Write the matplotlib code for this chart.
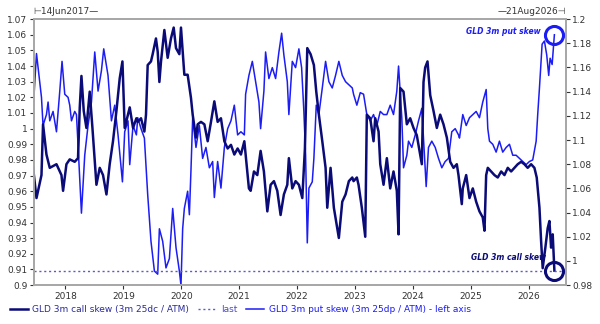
import numpy as np
import matplotlib
matplotlib.use("Agg")
import matplotlib.pyplot as plt
from matplotlib.lines import Line2D

# put skew (3m 25dp / ATM) - left axis, x in decimal years
put_t = [2017.441, 2017.500, 2017.586, 2017.613, 2017.672, 2017.700, 2017.729, 2017.786, 2017.845, 2017.902,
         2017.941, 2017.988, 2018.045, 2018.074, 2018.104, 2018.160, 2018.190, 2018.217, 2018.276, 2018.333,
         2018.390, 2018.449, 2018.506, 2018.563, 2018.621, 2018.661, 2018.735, 2018.794, 2018.851, 2018.908,
         2018.984, 2019.023, 2019.080, 2019.110, 2019.167, 2019.225, 2019.248, 2019.305, 2019.363, 2019.420,
         2019.477, 2019.536, 2019.593, 2019.622, 2019.679, 2019.736, 2019.795, 2019.852, 2019.909, 2019.967,
         2019.995, 2020.024, 2020.053, 2020.110, 2020.140, 2020.167, 2020.197, 2020.254, 2020.312, 2020.369,
         2020.426, 2020.485, 2020.542, 2020.571, 2020.628, 2020.685, 2020.744, 2020.801, 2020.858, 2020.916,
         2020.973, 2021.030, 2021.089, 2021.111, 2021.168, 2021.227, 2021.284, 2021.341, 2021.370, 2021.427,
         2021.456, 2021.513, 2021.572, 2021.629, 2021.686, 2021.733, 2021.772, 2021.831, 2021.858, 2021.917,
         2021.974, 2022.031, 2022.078, 2022.117, 2022.147, 2022.176, 2022.204, 2022.262, 2022.290, 2022.331,
         2022.376, 2022.435, 2022.492, 2022.549, 2022.607, 2022.664, 2022.721, 2022.780, 2022.837, 2022.894,
         2022.953, 2022.975, 2023.032, 2023.091, 2023.148, 2023.204, 2023.263, 2023.320, 2023.377, 2023.436,
         2023.493, 2023.550, 2023.608, 2023.665, 2023.722, 2023.752, 2023.808, 2023.838, 2023.895, 2023.924,
         2023.981, 2024.040, 2024.097, 2024.154, 2024.183, 2024.229, 2024.269, 2024.326, 2024.385, 2024.442,
         2024.499, 2024.557, 2024.614, 2024.671, 2024.730, 2024.787, 2024.804, 2024.861, 2024.920, 2024.977,
         2025.034, 2025.092, 2025.149, 2025.206, 2025.265, 2025.293, 2025.322, 2025.379, 2025.437, 2025.494,
         2025.551, 2025.610, 2025.667, 2025.724, 2025.782, 2025.839, 2025.896, 2025.955, 2026.012, 2026.069,
         2026.128, 2026.155, 2026.185, 2026.231, 2026.271, 2026.311, 2026.345, 2026.369, 2026.404, 2026.443]
put_v = [1.011, 1.048, 1.020, 1.002, 1.009, 1.017, 1.005, 1.011, 0.998, 1.024,
         1.043, 1.022, 1.020, 1.015, 1.005, 1.011, 1.009, 0.990, 0.946, 0.983,
         1.002, 1.017, 1.049, 1.024, 1.037, 1.051, 1.034, 1.005, 1.015, 0.996,
         0.966, 0.998, 1.005, 0.977, 1.002, 0.996, 1.007, 1.000, 0.994, 0.958,
         0.928, 0.909, 0.907, 0.936, 0.928, 0.911, 0.917, 0.949, 0.924, 0.909,
         0.900, 0.936, 0.949, 0.960, 0.945, 0.973, 1.007, 0.988, 1.002, 0.981,
         0.988, 0.975, 0.979, 0.956, 0.979, 0.962, 0.988, 1.000, 1.005, 1.015,
         0.996, 0.998, 0.996, 1.022, 1.034, 1.043, 1.030, 1.017, 1.000, 1.024,
         1.049, 1.032, 1.039, 1.032, 1.049, 1.061, 1.047, 1.030, 1.009, 1.043,
         1.039, 1.051, 1.039, 1.011, 0.983, 0.927, 0.962, 0.966, 0.981, 1.015,
         1.009, 1.026, 1.043, 1.030, 1.026, 1.034, 1.043, 1.034, 1.030, 1.028,
         1.026, 1.022, 1.015, 1.023, 1.022, 1.009, 1.005, 1.009, 1.002, 1.011,
         1.009, 1.009, 1.015, 1.009, 1.024, 1.040, 1.007, 0.975, 0.983, 0.992,
         0.988, 0.996, 1.005, 1.013, 0.994, 0.963, 0.988, 0.992, 0.988, 0.981,
         0.975, 0.979, 0.981, 0.998, 1.000, 0.996, 0.994, 1.009, 1.002, 1.007,
         1.009, 1.011, 1.007, 1.017, 1.025, 1.000, 0.992, 0.990, 0.985, 0.992,
         0.985, 0.988, 0.990, 0.983, 0.983, 0.981, 0.979, 0.977, 0.979, 0.980,
         0.992, 1.009, 1.026, 1.054, 1.056, 1.047, 1.034, 1.045, 1.041, 1.060]

# call skew (3m 25dc / ATM) - right axis
call_t = [2017.441, 2017.500, 2017.586, 2017.613, 2017.672, 2017.729, 2017.845, 2017.931, 2017.959, 2018.017,
          2018.074, 2018.160, 2018.217, 2018.247, 2018.276, 2018.316, 2018.362, 2018.419, 2018.466, 2018.506,
          2018.535, 2018.592, 2018.649, 2018.708, 2018.764, 2018.821, 2018.880, 2018.937, 2018.984, 2019.023,
          2019.110, 2019.167, 2019.225, 2019.248, 2019.305, 2019.363, 2019.391, 2019.420, 2019.477, 2019.506,
          2019.563, 2019.593, 2019.622, 2019.650, 2019.708, 2019.765, 2019.822, 2019.869, 2019.909, 2019.967,
          2019.995, 2020.053, 2020.110, 2020.167, 2020.197, 2020.254, 2020.283, 2020.340, 2020.399, 2020.456,
          2020.513, 2020.571, 2020.628, 2020.685, 2020.744, 2020.801, 2020.858, 2020.916, 2020.973, 2021.030,
          2021.089, 2021.111, 2021.168, 2021.198, 2021.255, 2021.313, 2021.370, 2021.427, 2021.486, 2021.543,
          2021.600, 2021.658, 2021.715, 2021.772, 2021.831, 2021.858, 2021.917, 2021.974, 2022.031, 2022.090,
          2022.135, 2022.176, 2022.233, 2022.290, 2022.331, 2022.376, 2022.435, 2022.492, 2022.521, 2022.578,
          2022.635, 2022.694, 2022.721, 2022.780, 2022.837, 2022.894, 2022.953, 2022.975, 2023.032, 2023.061,
          2023.118, 2023.177, 2023.204, 2023.263, 2023.320, 2023.349, 2023.407, 2023.436, 2023.493, 2023.550,
          2023.608, 2023.665, 2023.722, 2023.752, 2023.781, 2023.838, 2023.895, 2023.953, 2024.010, 2024.067,
          2024.126, 2024.154, 2024.183, 2024.212, 2024.252, 2024.299, 2024.356, 2024.413, 2024.471, 2024.528,
          2024.586, 2024.644, 2024.701, 2024.758, 2024.787, 2024.844, 2024.861, 2024.920, 2024.977, 2025.034,
          2025.092, 2025.149, 2025.206, 2025.236, 2025.265, 2025.293, 2025.351, 2025.408, 2025.465, 2025.524,
          2025.581, 2025.638, 2025.696, 2025.753, 2025.810, 2025.869, 2025.925, 2025.982, 2026.041, 2026.098,
          2026.138, 2026.185, 2026.214, 2026.241, 2026.287, 2026.327, 2026.357, 2026.386, 2026.414, 2026.443]
call_v = [1.077, 1.052, 1.071, 1.113, 1.088, 1.077, 1.080, 1.071, 1.058, 1.080,
          1.084, 1.082, 1.085, 1.127, 1.153, 1.124, 1.110, 1.140, 1.110, 1.082,
          1.063, 1.077, 1.071, 1.055, 1.080, 1.099, 1.124, 1.151, 1.165, 1.110,
          1.127, 1.110, 1.118, 1.115, 1.118, 1.107, 1.121, 1.162, 1.165, 1.171,
          1.184, 1.173, 1.148, 1.165, 1.191, 1.168, 1.184, 1.193, 1.176, 1.171,
          1.193, 1.154, 1.154, 1.135, 1.121, 1.102, 1.113, 1.115, 1.113, 1.099,
          1.115, 1.132, 1.115, 1.118, 1.099, 1.093, 1.096, 1.088, 1.093, 1.088,
          1.099, 1.088, 1.060, 1.058, 1.074, 1.071, 1.091, 1.074, 1.041, 1.063,
          1.066, 1.058, 1.038, 1.055, 1.063, 1.085, 1.060, 1.066, 1.063, 1.052,
          1.093, 1.176, 1.171, 1.162, 1.140, 1.121, 1.099, 1.077, 1.044, 1.077,
          1.044, 1.027, 1.019, 1.049, 1.055, 1.066, 1.069, 1.066, 1.069, 1.063,
          1.044, 1.020, 1.121, 1.118, 1.099, 1.118, 1.107, 1.080, 1.063, 1.085,
          1.060, 1.074, 1.058, 1.022, 1.143, 1.140, 1.113, 1.118, 1.110, 1.104,
          1.088, 1.080, 1.148, 1.160, 1.165, 1.137, 1.124, 1.110, 1.121, 1.113,
          1.102, 1.082, 1.077, 1.080, 1.071, 1.047, 1.060, 1.071, 1.052, 1.060,
          1.049, 1.041, 1.036, 1.025, 1.071, 1.077, 1.074, 1.071, 1.069, 1.074,
          1.071, 1.077, 1.074, 1.077, 1.080, 1.082, 1.080, 1.077, 1.080, 1.077,
          1.069, 1.044, 1.016, 0.994, 1.011, 1.027, 1.033, 1.011, 1.022, 0.992]

years = [2018, 2019, 2020, 2021, 2022, 2023, 2024, 2025, 2026]
left_ticks = [0.9, 0.91, 0.92, 0.93, 0.94, 0.95, 0.96, 0.97, 0.98, 0.99,
              1.0, 1.01, 1.02, 1.03, 1.04, 1.05, 1.06, 1.07]
right_ticks = [0.98, 1.0, 1.02, 1.04, 1.06, 1.08, 1.1, 1.12, 1.14, 1.16, 1.18, 1.2]
start_label = "14Jun2017"
end_label = "21Aug2026"

NAVY = "#0b0b78"
BLUE = "#1c1cf5"
FRAME = "#a8a8a8"
TXT = "#333333"

plt.rcParams['font.family'] = ['DejaVu Sans']
fig = plt.figure(figsize=(6, 3.24), dpi=100)
ax = fig.add_axes([0.056, 0.12, 0.887, 0.821])
ax2 = ax.twinx()

ax.plot(put_t, put_v, color=BLUE, lw=1.1)
ax2.plot(call_t, call_v, color=NAVY, lw=1.8)
ax2.axhline(call_v[-1], color="#5a5ad0", lw=1.0, ls=(0, (1.5, 2)))

# end-point rings
ax.plot(put_t[-1], put_v[-1], 'o', ms=13, mfc='none', mec=BLUE, mew=2.2)
ax2.plot(call_t[-1], call_v[-1], 'o', ms=13, mfc='none', mec=NAVY, mew=2.2)
ax.text(put_t[-1] - 0.24, put_v[-1] + 0.002, "GLD 3m put skew", color=BLUE, fontsize=5.5,
        style='italic', weight='bold', ha='right', va='center')
ax2.text(call_t[-1] - 0.14, call_v[-1] + 0.011, "GLD 3m call skew", color=NAVY, fontsize=5.5,
         style='italic', weight='bold', ha='right', va='center')

ax.set_xlim(2017.45, 2026.64)
ax.set_ylim(0.9, 1.07)
ax2.set_ylim(0.98, 1.2)
ax.set_xticks(years)
ax.set_xticklabels([str(y) for y in years])
ax.set_yticks(left_ticks)
ax.set_yticklabels(["%g" % v for v in left_ticks])
ax2.set_yticks(right_ticks)
ax2.set_yticklabels(["%g" % v for v in right_ticks])

for a in (ax, ax2):
    for s in a.spines.values():
        s.set_color(FRAME)
        s.set_linewidth(1.3)
    a.tick_params(labelsize=6.5, colors=TXT, length=3, width=0.8, pad=1.5)
ax.tick_params(axis='x', pad=2)

ax.text(0.0, 1.012, "\u22a2" + start_label + "\u2014", transform=ax.transAxes, fontsize=6.5,
        color=TXT, ha='left', va='bottom')
ax.text(1.0, 1.012, "\u2014" + end_label + "\u22a3", transform=ax.transAxes, fontsize=6.5,
        color=TXT, ha='right', va='bottom')

handles = [Line2D([], [], color=NAVY, lw=1.8),
           Line2D([], [], color="#5a5ad0", lw=1.0, ls=(0, (1.5, 2))),
           Line2D([], [], color=BLUE, lw=1.1)]
labels = ["GLD 3m call skew (3m 25dc / ATM)", "last", "GLD 3m put skew (3m 25dp / ATM) - left axis"]
leg = fig.legend(handles, labels, loc='lower left', bbox_to_anchor=(0.01, 0.02), ncol=3,
                 frameon=False, fontsize=6.5, handlelength=2.0, handletextpad=0.5,
                 columnspacing=1.0, borderaxespad=0)
for t, c in zip(leg.get_texts(), ["#2a2a9a", "#4a4ac8", BLUE]):
    t.set_color(c)

fig.savefig("out.png", dpi=100)
